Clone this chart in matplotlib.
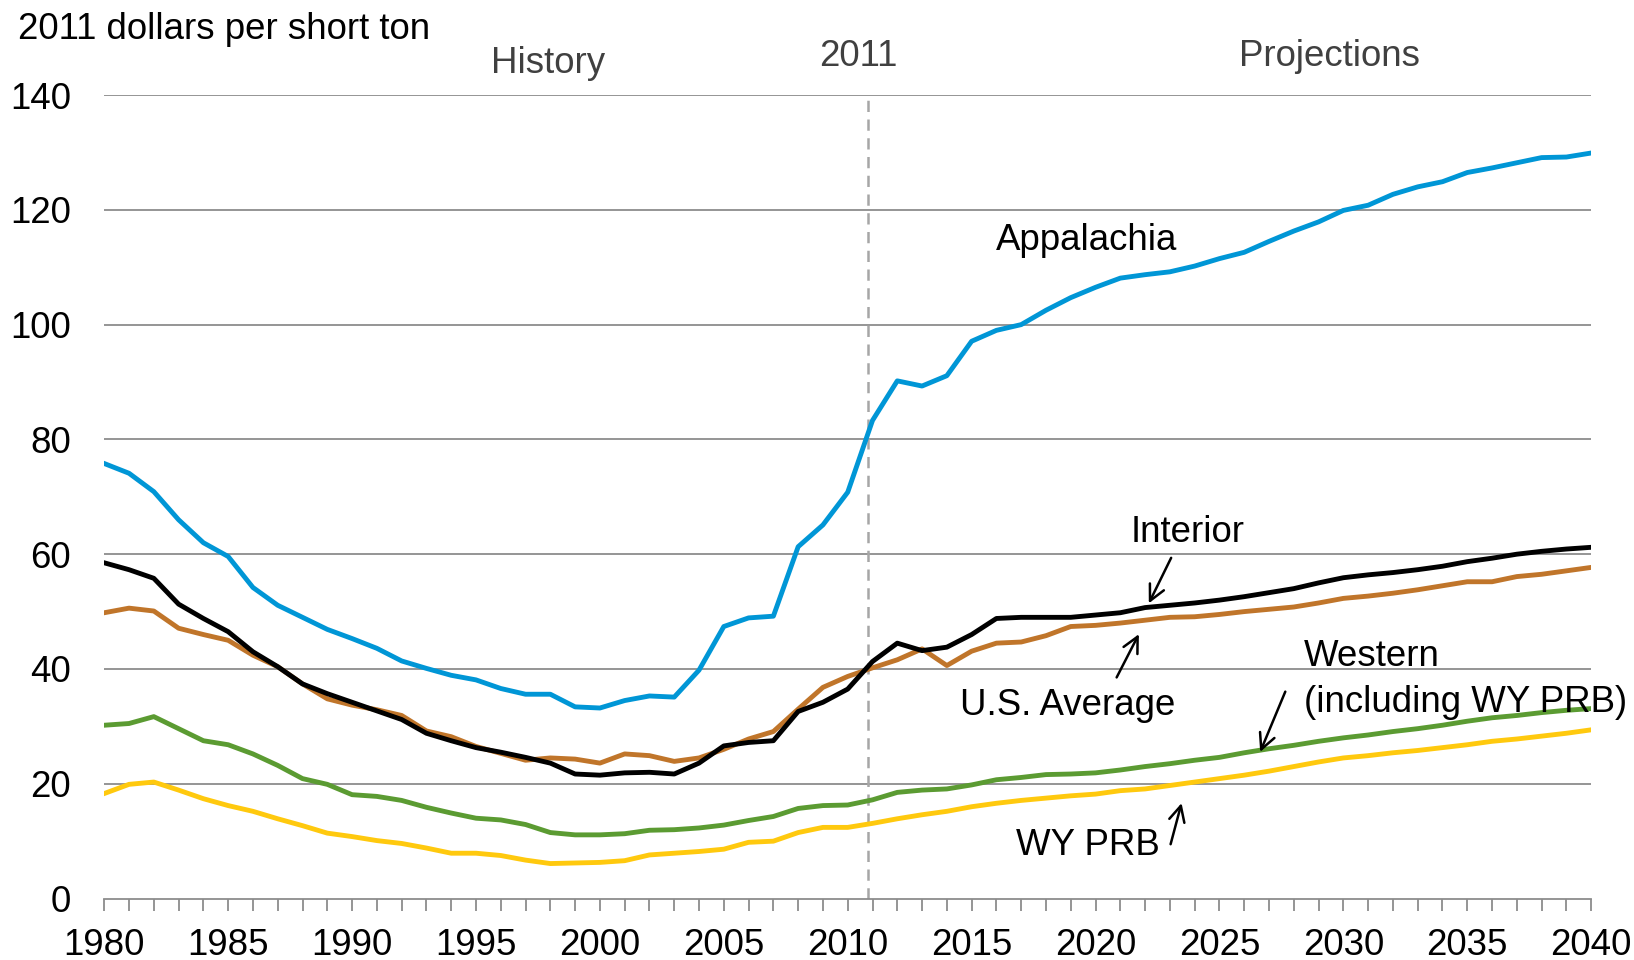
import numpy as np
import matplotlib.pyplot as plt

plt.rcParams['font.family'] = ['Liberation Sans', 'DejaVu Sans']

years = list(range(1980, 2041))

appalachia = [75.8, 74.1, 70.9, 66.0, 62.0, 59.6, 54.2, 51.1, 49.0, 46.9,
              45.3, 43.6, 41.4, 40.1, 38.9, 38.1, 36.6, 35.6, 35.6, 33.4,
              33.2, 34.5, 35.3, 35.1, 39.8, 47.4, 48.9, 49.2, 61.3, 65.1,
              70.8, 83.3, 90.2, 89.3, 91.1, 97.1, 99.0, 100.0, 102.5, 104.7,
              106.5, 108.1, 108.7, 109.2, 110.2, 111.5, 112.6, 114.5, 116.3, 117.9,
              119.9, 120.8, 122.7, 124.0, 124.9, 126.5, 127.3, 128.2, 129.1, 129.2,
              129.9]
interior = [58.5, 57.3, 55.8, 51.3, 48.8, 46.5, 43.0, 40.4, 37.4, 35.7,
            34.2, 32.7, 31.2, 28.8, 27.5, 26.3, 25.5, 24.6, 23.6, 21.7,
            21.5, 21.9, 22.0, 21.7, 23.6, 26.6, 27.2, 27.5, 32.6, 34.2,
            36.5, 41.3, 44.5, 43.2, 43.8, 46.0, 48.8, 49.0, 49.0, 49.0,
            49.4, 49.8, 50.7, 51.1, 51.5, 52.0, 52.6, 53.3, 54.0, 55.0,
            55.9, 56.4, 56.8, 57.3, 57.9, 58.7, 59.3, 60.0, 60.5, 60.9,
            61.2]
us_average = [49.8, 50.6, 50.1, 47.1, 46.0, 45.0, 42.4, 40.4, 37.4, 34.8,
              33.7, 32.9, 31.9, 29.2, 28.2, 26.5, 25.3, 24.1, 24.5, 24.3,
              23.6, 25.2, 24.9, 23.9, 24.5, 26.0, 27.8, 29.1, 33.0, 36.8,
              38.7, 40.2, 41.6, 43.5, 40.6, 43.1, 44.5, 44.7, 45.8, 47.4,
              47.6, 48.0, 48.5, 49.0, 49.1, 49.5, 50.0, 50.4, 50.8, 51.5,
              52.3, 52.7, 53.2, 53.8, 54.5, 55.2, 55.2, 56.1, 56.5, 57.1,
              57.7]
western = [30.2, 30.5, 31.7, 29.6, 27.5, 26.8, 25.2, 23.2, 20.9, 19.9,
           18.1, 17.8, 17.1, 15.9, 14.9, 14.0, 13.7, 12.9, 11.5, 11.1,
           11.1, 11.3, 11.9, 12.0, 12.3, 12.8, 13.6, 14.3, 15.7, 16.2,
           16.3, 17.2, 18.5, 18.9, 19.1, 19.8, 20.7, 21.1, 21.6, 21.7,
           21.9, 22.4, 23.0, 23.5, 24.1, 24.6, 25.4, 26.1, 26.7, 27.4,
           28.0, 28.5, 29.1, 29.6, 30.2, 30.9, 31.5, 31.9, 32.4, 32.8,
           33.1]
wy_prb = [18.3, 19.9, 20.3, 18.9, 17.4, 16.2, 15.2, 13.9, 12.7, 11.4,
          10.8, 10.1, 9.6, 8.8, 7.9, 7.9, 7.5, 6.7, 6.1, 6.2,
          6.3, 6.6, 7.6, 7.9, 8.2, 8.6, 9.8, 10.0, 11.5, 12.4,
          12.4, 13.1, 13.9, 14.6, 15.2, 16.0, 16.6, 17.1, 17.5, 17.9,
          18.2, 18.8, 19.1, 19.7, 20.3, 20.9, 21.5, 22.2, 23.0, 23.8,
          24.5, 24.9, 25.4, 25.8, 26.3, 26.8, 27.4, 27.8, 28.3, 28.8,
          29.4]

fs = 26.4
lw = 3.5
fig = plt.figure(figsize=(16.34, 9.6), dpi=100)
ax = fig.add_axes([0.0638, 0.064, 0.9100, 0.8370])

grid_c = '#8c8c8c'
for v in range(20, 141, 20):
    ax.axhline(v, color=grid_c, lw=1.3, zorder=1)

# 歷史 / 預測 分界虛線
ax.axvline(2010.8, ymin=0, ymax=1, color='#a6a6a6', lw=1.8, ls=(0, (4.5, 3)), zorder=1)

ax.plot(years, wy_prb, color='#FFC90E', lw=lw, zorder=3)
ax.plot(years, western, color='#5B9B32', lw=lw, zorder=3)
ax.plot(years, us_average, color='#C0752A', lw=lw, zorder=3)
ax.plot(years, interior, color='#000000', lw=lw, zorder=4)
ax.plot(years, appalachia, color='#0096D6', lw=lw, zorder=3)

ax.set_xlim(1980, 2040)
ax.set_ylim(0, 140)
ax.set_yticks(range(0, 141, 20))
ax.set_xticks(range(1980, 2041, 5))
ax.set_xticks(range(1980, 2041), minor=True)
for s in ['left', 'right', 'top']:
    ax.spines[s].set_visible(False)
ax.spines['bottom'].set_color(grid_c)
ax.spines['bottom'].set_linewidth(1.3)
ax.tick_params(axis='y', length=0, pad=24, labelsize=fs)
ax.tick_params(axis='x', which='both', direction='out', length=8.4, width=1.3,
               color=grid_c, pad=13, labelsize=fs)

fig.text(17.7 / 1634, 1 - 38.6 / 960, '2011 dollars per short ton', fontsize=fs,
         ha='left', va='baseline')
fig.text(548 / 1634, 1 - 73 / 960, 'History', fontsize=fs, color='#404040',
         ha='center', va='baseline')
fig.text(858 / 1634, 1 - 65.7 / 960, '2011', fontsize=fs, color='#404040',
         ha='center', va='baseline')
fig.text(1329 / 1634, 1 - 65.7 / 960, 'Projections', fontsize=fs, color='#404040',
         ha='center', va='baseline')

ax.text(2016.0, 113.0, 'Appalachia', fontsize=fs, ha='left', va='baseline')
ax.text(2023.7, 62.1, 'Interior', fontsize=fs, ha='center', va='baseline')
ax.text(2014.55, 32.0, 'U.S. Average', fontsize=fs, ha='left', va='baseline')
ax.text(2028.4, 40.5, 'Western', fontsize=fs, ha='left', va='baseline')
ax.text(2028.4, 32.5, '(including WY PRB)', fontsize=fs, ha='left', va='baseline')
ax.text(2016.8, 7.6, 'WY PRB', fontsize=fs, ha='left', va='baseline')

arrow = dict(arrowstyle='->', lw=1.8, color='black', mutation_scale=28)
ax.annotate('', xy=(2022.1, 51.0), xytext=(2023.1, 59.8), arrowprops=arrow)
ax.annotate('', xy=(2021.8, 46.5), xytext=(2020.8, 38.1), arrowprops=arrow)
ax.annotate('', xy=(2026.6, 25.1), xytext=(2027.7, 36.5), arrowprops=arrow)
ax.annotate('', xy=(2023.5, 17.1), xytext=(2023.0, 9.0), arrowprops=arrow)

plt.savefig('out.png', dpi=100)
